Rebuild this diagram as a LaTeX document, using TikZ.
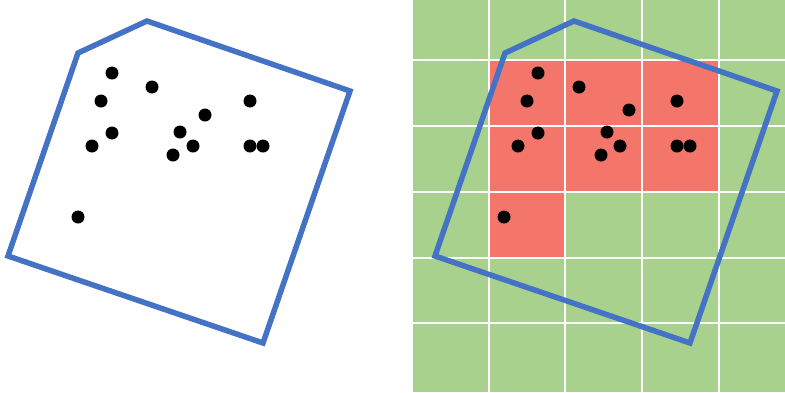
\documentclass[tikz,border=0pt]{standalone}
\definecolor{polyblue}{HTML}{4472C4}
\definecolor{cellgreen}{HTML}{A9D18E}
\definecolor{cellred}{HTML}{F4766A}
\begin{document}
\begin{tikzpicture}[x=1pt,y=-1pt,
  hull/.style={draw=polyblue,line width=5.5pt,line join=miter},
  dot/.style={fill=black},
  gridline/.style={draw=white,line width=1.6pt}]
\useasboundingbox (0,0) rectangle (785,392);
% left panel
\draw[hull] (78,53) -- (147,21) -- (350,91) -- (263,343) -- (8,256) -- cycle;
\foreach \p in {(112,73),(152,87),(101,101),(250,101),(205,115),(112,133),(180,132),(92,146),(193,146),(250,146),(263,146),(173,155),(78,217)}
  \fill[dot] \p circle (6.5);
% right panel
\fill[cellgreen] (413,0) rectangle (785,392);
\fill[cellred] (489,60) rectangle (719,192);
\fill[cellred] (489,192) rectangle (565,258);
\foreach \x in {489,565,642,719} \draw[gridline] (\x,0) -- (\x,392);
\foreach \y in {60,126,192,258,323} \draw[gridline] (413,\y) -- (785,\y);
\draw[hull] (505,53) -- (574,21) -- (777,91) -- (690,343) -- (435,256) -- cycle;
\foreach \p in {(538,73),(579,87),(527,101),(677,101),(629,110),(538,133),(607,132),(518,146),(620,146),(677,146),(690,146),(601,155),(504,217)}
  \fill[dot] \p circle (6.5);
\end{tikzpicture}
\end{document}
